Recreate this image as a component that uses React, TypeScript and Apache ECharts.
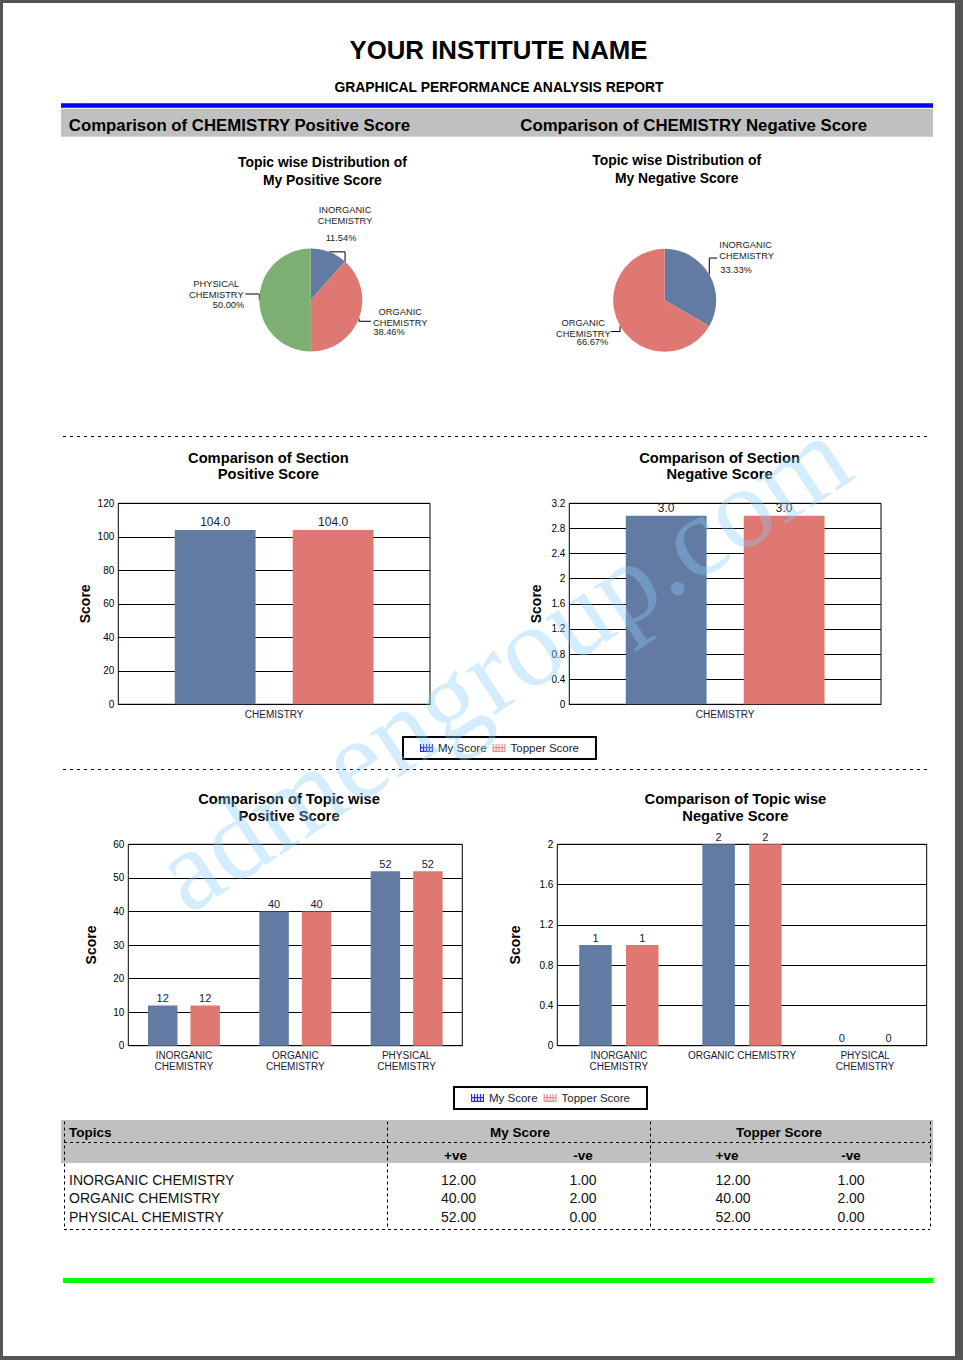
import React, { useEffect, useRef } from "react";
import * as echarts from "echarts";

// ---------- data ----------
const topics = ["INORGANIC CHEMISTRY", "ORGANIC CHEMISTRY", "PHYSICAL CHEMISTRY"];
const myPositive = [12, 40, 52];
const myNegative = [1, 2, 0];
const topperPositive = [12, 40, 52];
const topperNegative = [1, 2, 0];

const sections = ["CHEMISTRY"];
const sectionMyPositive = [104.0];
const sectionTopperPositive = [104.0];
const sectionMyNegative = [3.0];
const sectionTopperNegative = [3.0];

const seriesNames = ["My Score", "Topper Score"];

const sectionPositiveTicks = { max: 120, interval: 20 };
const sectionNegativeTicks = { max: 3.2, interval: 0.4 };
const topicPositiveTicks = { max: 60, interval: 10 };
const topicNegativeTicks = { max: 2, interval: 0.4 };

// ---------- styles ----------
const FONT = '"Liberation Sans", Arial, Helvetica, sans-serif';
const BLUE = "#637ba3";
const RED = "#df7872";
const GREEN = "#7caf71";
const topicColors = [BLUE, RED, GREEN];
const legendColors = ["#2a2aff", "#f58a8a"];
const GRAY = "#c0c0c0";
const NAVY = "#1a1a3a";

const LEGEND_ICON =
  "path://M0,0h1.2v8h-1.2z M3,0h1.2v8h-1.2z M6,0h1.2v8h-1.2z M9,0h1.2v8h-1.2z M12,0h1.2v8h-1.2z M0,3h13.2v1.2h-13.2z M0,6.8h13.2v1.2h-13.2z";

// label placement relative to the slice's outer mid-arc point
const pieLabelCfg: Record<string, Record<string, any>> = {
  positive: {
    "INORGANIC CHEMISTRY": {
      name: { dx: 16, dy: -36, align: "center" },
      pct: { dx: 12, dy: -14.3, align: "center" },
      line: [[0, 0], [16, 0], [16, 10]],
    },
    "ORGANIC CHEMISTRY": {
      name: { dx: 41.3, dy: -0.6, align: "center" },
      pct: { dx: 14.3, dy: 13.9, align: "left" },
      line: [[0, 0], [0, 3], [12, 3]],
    },
    "PHYSICAL CHEMISTRY": {
      name: { dx: -43, dy: -10.5, align: "center" },
      pct: { dx: -15, dy: 5, align: "right" },
      line: [[0, 0], [0, -6], [-14, -6]],
    },
  },
  negative: {
    "INORGANIC CHEMISTRY": {
      name: { dx: 10, dy: -24, align: "left" },
      pct: { dx: 11, dy: -4.5, align: "left" },
      line: [[0, 0], [0, -16.5], [8, -16.5]],
    },
    "ORGANIC CHEMISTRY": {
      name: { dx: -36.8, dy: 2, align: "center" },
      pct: { dx: -11.8, dy: 15.5, align: "right" },
      line: [[0, 0], [0, 5.5], [-9, 5.5]],
    },
  },
};

function pieData(values: number[]) {
  return topics
    .map((t, i) => ({ name: t, value: values[i], itemStyle: { color: topicColors[i] } }))
    .filter((d) => d.value > 0);
}

function pieLayout(data: any[], which: string, kind: "name" | "pct") {
  return (params: any) => {
    const item = data[params.dataIndex];
    const c = item && pieLabelCfg[which][item.name];
    if (!c || !params.labelLinePoints) return {};
    const [px, py] = params.labelLinePoints[0];
    const part = c[kind];
    const out: any = { x: px + part.dx, y: py + part.dy, align: part.align, verticalAlign: "middle" };
    if (kind === "name") out.labelLinePoints = c.line.map(([a, b]: number[]) => [px + a, py + b]);
    return out;
  };
}

function pieSeries(values: number[], which: string, center: number[]) {
  const data = pieData(values);
  const common = {
    type: "pie",
    center,
    radius: 51.5,
    startAngle: 90,
    clockwise: true,
    silent: true,
    avoidLabelOverlap: false,
    emphasis: { disabled: true },
  };
  return [
    {
      ...common,
      data,
      itemStyle: { borderWidth: 0 },
      label: {
        show: true,
        position: "outside",
        formatter: (p: any) => p.name.replace(" ", "\n"),
        fontSize: 9.3,
        lineHeight: 11,
        color: "#222",
        fontFamily: FONT,
      },
      labelLine: { show: true, length: 8, length2: 8, lineStyle: { color: "#000", width: 1 } },
      labelLayout: pieLayout(data, which, "name"),
    },
    {
      ...common,
      data: data.map((d) => ({ name: d.name, value: d.value })),
      itemStyle: { color: "rgba(0,0,0,0)", borderWidth: 0 },
      label: {
        show: true,
        position: "outside",
        formatter: (p: any) => p.percent.toFixed(2) + "%",
        fontSize: 9.3,
        lineHeight: 11,
        color: "#222",
        fontFamily: FONT,
      },
      labelLine: { show: true, lineStyle: { color: "rgba(0,0,0,0)", width: 0 } },
      labelLayout: pieLayout(data, which, "pct"),
    },
  ];
}

const grids = [
  { left: 118.3, top: 503.3, width: 311.7, height: 201 },
  { left: 569.3, top: 503.3, width: 311.7, height: 201 },
  { left: 128.3, top: 844.3, width: 334, height: 201.4 },
  { left: 557.3, top: 844.3, width: 369.4, height: 201.4 },
];

function wrapAt(maxChars: number) {
  return (v: string) => (v.length > maxChars ? v.replace(" ", "\n") : v);
}

function xAxis(gridIndex: number, data: string[], maxChars: number) {
  return {
    type: "category",
    gridIndex,
    data,
    axisTick: { show: false },
    axisLine: { show: true, lineStyle: { color: "#000", width: 1 } },
    splitLine: { show: false },
    axisLabel: {
      interval: 0,
      margin: 4.5,
      fontSize: 10,
      lineHeight: 11,
      color: NAVY,
      fontFamily: FONT,
      formatter: wrapAt(maxChars),
    },
  };
}

function yAxis(gridIndex: number, ticks: { max: number; interval: number }, nameGap: number) {
  return {
    type: "value",
    gridIndex,
    min: 0,
    max: ticks.max,
    interval: ticks.interval,
    name: "Score",
    nameLocation: "middle",
    nameRotate: 90,
    nameGap,
    nameTextStyle: { fontSize: 14, fontWeight: "bold", color: "#000", fontFamily: FONT },
    axisLine: { show: false },
    axisTick: { show: false },
    splitLine: { show: true, lineStyle: { color: "#000", width: 1, type: "solid" } },
    axisLabel: { margin: 4, fontSize: 10, color: "#000", fontFamily: FONT },
  };
}

function barPair(
  idx: number,
  my: number[],
  top: number[],
  barWidth: number,
  barGap: string,
  fmt: (v: number) => string,
  fontSize: number
) {
  const mk = (name: string, data: number[], color: string) => ({
    name,
    type: "bar",
    xAxisIndex: idx,
    yAxisIndex: idx,
    data,
    barWidth,
    barGap,
    itemStyle: { color },
    emphasis: { disabled: true },
    label: {
      show: true,
      position: "top",
      distance: 2,
      formatter: (p: any) => fmt(Number(p.value)),
      fontSize,
      color: NAVY,
      fontFamily: FONT,
    },
  });
  return [mk(seriesNames[0], my, BLUE), mk(seriesNames[1], top, RED)];
}

function txt(text: string, x: number, y: number, o: any = {}) {
  return {
    type: "text",
    x,
    y,
    z: o.z ?? 10,
    silent: true,
    rotation: o.rotation ?? 0,
    style: {
      text,
      fill: o.color ?? "#000",
      fontSize: o.size ?? 14,
      fontWeight: o.weight ?? "normal",
      fontFamily: o.family ?? FONT,
      align: o.align ?? "left",
      verticalAlign: "middle",
      lineHeight: o.lineHeight ?? undefined,
    },
  };
}

function dashed(x1: number, y1: number, x2: number, y2: number, dash = [3, 3]) {
  return {
    type: "line",
    z: 5,
    silent: true,
    shape: { x1, y1, x2, y2 },
    style: { stroke: "#000", lineWidth: 1, lineDash: dash },
  };
}

function rect(x: number, y: number, width: number, height: number, fill: string, z = 1) {
  return { type: "rect", z, silent: true, shape: { x, y, width, height }, style: { fill } };
}

function legend(left: number, top: number) {
  return {
    data: seriesNames.map((n, i) => ({ name: n, itemStyle: { color: legendColors[i] } })),
    left,
    top,
    orient: "horizontal",
    icon: LEGEND_ICON,
    itemWidth: 13,
    itemHeight: 8,
    itemGap: 6,
    padding: [5, 17, 5, 17],
    borderColor: "#000",
    borderWidth: 2,
    backgroundColor: "#fff",
    selectedMode: false,
    textStyle: { fontSize: 11.5, color: NAVY, fontFamily: FONT },
  };
}

function buildGraphic() {
  const els: any[] = [];
  // page
  els.push(rect(3, 3, 952, 1353, "#fff", -10));
  // header
  els.push(txt("YOUR INSTITUTE NAME", 498.5, 50, { size: 25.8, weight: "bold", align: "center" }));
  els.push(
    txt("GRAPHICAL PERFORMANCE ANALYSIS REPORT", 499, 86.5, { size: 13.9, weight: "bold", align: "center" })
  );
  els.push(rect(61, 103.3, 872, 4.5, "#0000ff"));
  els.push(rect(61, 108.7, 872, 28, GRAY));
  els.push(txt("Comparison of CHEMISTRY Positive Score", 68.8, 125, { size: 16.8, weight: "bold" }));
  els.push(txt("Comparison of CHEMISTRY Negative Score", 520.3, 125, { size: 16.8, weight: "bold" }));
  // pie titles
  els.push(
    txt("Topic wise Distribution of\nMy Positive Score", 322.4, 171, {
      size: 13.9,
      weight: "bold",
      align: "center",
      lineHeight: 18.5,
    })
  );
  els.push(
    txt("Topic wise Distribution of\nMy Negative Score", 676.7, 169, {
      size: 13.9,
      weight: "bold",
      align: "center",
      lineHeight: 18.5,
    })
  );
  // separators
  els.push(dashed(63, 436.5, 928, 436.5, [3, 4]));
  els.push(dashed(63, 769.5, 928, 769.5, [3, 4]));
  // chart titles
  const ct = { size: 14.7, weight: "bold", align: "center", lineHeight: 16.8 };
  els.push(txt("Comparison of Section\nPositive Score", 268.4, 466, ct));
  els.push(txt("Comparison of Section\nNegative Score", 719.5, 466, ct));
  els.push(txt("Comparison of Topic wise\nPositive Score", 289, 807.4, ct));
  els.push(txt("Comparison of Topic wise\nNegative Score", 735.4, 807.4, ct));
  // table
  els.push(rect(61, 1120, 872, 43, GRAY));
  els.push(dashed(64, 1142.5, 930, 1142.5, [3, 3]));
  els.push(dashed(64, 1229.5, 930, 1229.5, [3, 3]));
  [64.5, 387.5, 650.5, 930.5].forEach((x) => els.push(dashed(x, 1121.5, x, 1229.5, [3, 3])));
  const hb = { size: 13.5, weight: "bold" };
  els.push(txt("Topics", 69, 1132, hb));
  els.push(txt("My Score", 520, 1132, { ...hb, align: "center" }));
  els.push(txt("Topper Score", 779, 1132, { ...hb, align: "center" }));
  els.push(txt("+ve", 455.5, 1155, { ...hb, align: "center" }));
  els.push(txt("-ve", 583, 1155, { ...hb, align: "center" }));
  els.push(txt("+ve", 727, 1155, { ...hb, align: "center" }));
  els.push(txt("-ve", 851, 1155, { ...hb, align: "center" }));
  const rowY = [1180, 1198.3, 1216.7];
  const rc = { size: 14, color: "#111" };
  topics.forEach((t, i) => {
    els.push(txt(t, 69, rowY[i], rc));
    els.push(txt(myPositive[i].toFixed(2), 458.5, rowY[i], { ...rc, align: "center" }));
    els.push(txt(myNegative[i].toFixed(2), 583, rowY[i], { ...rc, align: "center" }));
    els.push(txt(topperPositive[i].toFixed(2), 733, rowY[i], { ...rc, align: "center" }));
    els.push(txt(topperNegative[i].toFixed(2), 851, rowY[i], { ...rc, align: "center" }));
  });
  // footer line
  els.push(rect(63, 1278, 870, 5, "#00ff00"));
  // watermark
  els.push(
    txt("admengroup.com", 502, 664, {
      size: 115,
      family: '"Liberation Serif", "Times New Roman", serif',
      color: "rgba(135,206,250,0.36)",
      align: "center",
      rotation: 0.58,
      z: 100,
    })
  );
  return els;
}

function buildOption() {
  return {
    animation: false,
    backgroundColor: "#555",
    textStyle: { fontFamily: FONT },
    grid: grids.map((g) => ({
      ...g,
      show: true,
      borderColor: "#000",
      borderWidth: 1,
      backgroundColor: "transparent",
      containLabel: false,
    })),
    xAxis: [
      xAxis(0, sections, 20),
      xAxis(1, sections, 20),
      xAxis(2, topics, 12),
      xAxis(3, topics, 17),
    ],
    yAxis: [
      yAxis(0, sectionPositiveTicks, 26),
      yAxis(1, sectionNegativeTicks, 26.5),
      yAxis(2, topicPositiveTicks, 30),
      yAxis(3, topicNegativeTicks, 35),
    ],
    legend: [legend(403, 737), legend(454, 1087)],
    series: [
      ...pieSeries(myPositive, "positive", [310.8, 300]),
      ...pieSeries(myNegative, "negative", [664.7, 300.3]),
      ...barPair(0, sectionMyPositive, sectionTopperPositive, 80.8, "46%", (v) => v.toFixed(1), 12),
      ...barPair(1, sectionMyNegative, sectionTopperNegative, 80.8, "46%", (v) => v.toFixed(1), 12),
      ...barPair(2, myPositive, topperPositive, 29.5, "44%", (v) => String(v), 11),
      ...barPair(3, myNegative, topperNegative, 32.5, "44%", (v) => String(v), 11),
    ],
    graphic: { elements: buildGraphic() },
  };
}

export default function App() {
  const ref = useRef<HTMLDivElement>(null);
  useEffect(() => {
    document.body.style.margin = "0";
    if (!ref.current) return;
    const chart = echarts.init(ref.current, undefined, { renderer: "svg", width: 963, height: 1360 });
    chart.setOption(buildOption() as any);
    return () => chart.dispose();
  }, []);
  return (
    <div
      ref={ref}
      style={{ position: "absolute", left: 0, top: 0, width: 963, height: 1360, overflow: "hidden" }}
    />
  );
}
